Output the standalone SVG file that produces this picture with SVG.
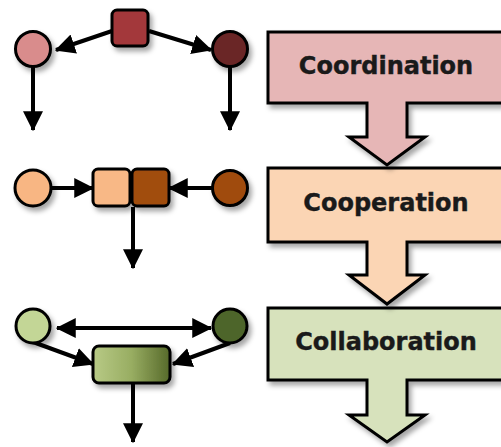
<svg xmlns="http://www.w3.org/2000/svg" width="501" height="447" viewBox="0 0 501 447">
<defs>
<filter id="sh" x="-20%" y="-20%" width="150%" height="150%">
<feDropShadow dx="3" dy="4" stdDeviation="2.5" flood-color="#000" flood-opacity="0.35"/>
</filter>
<marker id="ah" markerUnits="userSpaceOnUse" markerWidth="20" markerHeight="20" refX="15" refY="8" orient="auto-start-reverse" viewBox="0 0 16 16">
<path d="M0,0 L16,8 L0,16 Z" fill="#000"/>
</marker>
<linearGradient id="gg" x1="0" y1="0" x2="1" y2="0">
<stop offset="0" stop-color="#b8ca86"/>
<stop offset="0.5" stop-color="#98ad62"/>
<stop offset="1" stop-color="#56692a"/>
</linearGradient>
<style>
.blk{stroke:#000;stroke-width:3;stroke-linejoin:miter;filter:url(#sh)}
.nd{stroke:#000;stroke-width:3;filter:url(#sh)}
.cn line{stroke:#000;stroke-width:4;marker-end:url(#ah)}
.lbl{font-family:"DejaVu Sans",Verdana,sans-serif;font-weight:bold;font-size:24px;fill:#1a1a1a;stroke:#1a1a1a;stroke-width:0.4;text-anchor:middle}
</style>
</defs>
<rect width="501" height="447" fill="#fff"/>
<g id="block-collaboration">
<path class="blk" fill="#d7e2bc" d="M268,308 H520 V380 H407 V415 H425 L387,442 L349,415 H367 V380 H268 Z"/>
<text class="lbl" x="386" y="350">Collaboration</text>
</g>
<g id="block-cooperation">
<path class="blk" fill="#fbd5b4" d="M268,168 H520 V242 H407 V275 H425 L387,304 L349,275 H367 V242 H268 Z"/>
<text class="lbl" x="386" y="211">Cooperation</text>
</g>
<g id="block-coordination">
<path class="blk" fill="#e6b6b6" d="M268,32 H520 V103 H407 V137 H425 L387,165 L349,137 H367 V103 H268 Z"/>
<text class="lbl" x="386" y="74">Coordination</text>
</g>
<g class="cn" id="connectors">
<line x1="112" y1="31" x2="56" y2="50"/>
<line x1="149" y1="31" x2="211" y2="50"/>
<line x1="33" y1="66" x2="33" y2="130"/>
<line x1="230" y1="66" x2="230" y2="130"/>
<line x1="51" y1="188" x2="93" y2="188"/>
<line x1="213" y1="188" x2="169" y2="188"/>
<line x1="133" y1="207" x2="133" y2="268"/>
<line x1="57" y1="328" x2="211" y2="328" style="marker-start:url(#ah)"/>
<line x1="33" y1="342" x2="93" y2="364"/>
<line x1="230" y1="343" x2="173" y2="364"/>
<line x1="133" y1="383" x2="133" y2="442"/>
</g>
<g id="coord-left"><circle class="nd" cx="33" cy="49" r="17.5" fill="#d98c8c"/></g>
<g id="coord-top"><rect class="nd" x="112" y="10" width="36" height="36" rx="5" fill="#a3383a"/></g>
<g id="coord-right"><circle class="nd" cx="230" cy="49" r="17.5" fill="#6b2526"/></g>
<g id="coop-left"><circle class="nd" cx="33" cy="188" r="18" fill="#f8b683"/></g>
<g id="coop-sq1"><rect class="nd" x="93" y="169" width="37" height="37" rx="5" fill="#f8b886"/></g>
<g id="coop-sq2"><rect class="nd" x="132" y="169" width="37" height="37" rx="5" fill="#a14d10"/></g>
<g id="coop-right"><circle class="nd" cx="230" cy="188" r="17.5" fill="#a04b0d"/></g>
<g id="collab-left"><circle class="nd" cx="33" cy="326" r="17" fill="#c3d696"/></g>
<g id="collab-right"><circle class="nd" cx="230" cy="326" r="17" fill="#4e6529"/></g>
<g id="collab-rect"><rect class="nd" x="93" y="346" width="77" height="37" rx="6" fill="url(#gg)"/></g>
</svg>
